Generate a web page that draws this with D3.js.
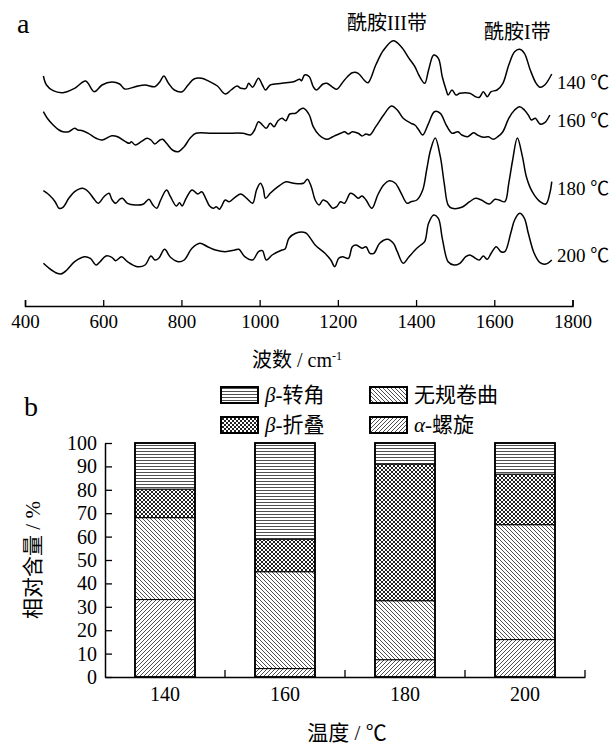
<!DOCTYPE html>
<html>
<head>
<meta charset="utf-8">
<script src="https://cdn.jsdelivr.net/npm/d3@7"></script>
<style>
  body { margin: 0; background: #fff; }
  svg { display: block; font-family: "Liberation Serif", "Times New Roman", "Noto Sans CJK SC", serif; }
</style>
</head>
<body>
<script>

// ================================ data
// (a) FTIR spectra, [wavenumber, intensity a.u. incl. stacking offset]
var spec140 = [[447,230],[455,221],[472,215.3],[497,213.3],[527,217.7],[555,225],[577,214.3],[597,221],[622,224],[642,222],[655,217],[682,219.3],[707,221],[732,219.3],[745,224.3],[755,230],[767,222.7],[782,216],[802,214.3],[817,221],[832,227],[852,227.7],[872,224.3],[892,220],[912,212],[927,216],[942,220],[952,217.7],[965,217.7],[972,222.7],[982,218.7],[997,227.7],[1007,221],[1015,216],[1027,221],[1057,222.7],[1087,224.3],[1102,226.7],[1107,225.3],[1115,231],[1127,229.3],[1137,219.3],[1145,216],[1162,222],[1172,222.7],[1187,218.7],[1197,216.7],[1217,226],[1237,233.3],[1252,232.7],[1267,226],[1277,223.3],[1297,241],[1317,256],[1342,265.3],[1362,259.3],[1382,247.7],[1397,239.3],[1407,231],[1422,222.7],[1432,236],[1445,251],[1457,247.7],[1467,229.3],[1477,216],[1482,211],[1492,216],[1502,211],[1512,212.7],[1537,212.7],[1552,209.3],[1562,208.7],[1572,214.3],[1582,209.3],[1592,214.3],[1607,216],[1622,222.7],[1637,241],[1652,254.3],[1665,256.7],[1677,252.7],[1692,236],[1707,222.7],[1717,218.7],[1729,221],[1747,232]];

var spec160 = [[447,194.3],[457,187.7],[472,181],[487,176],[497,174.3],[512,174.3],[527,177.7],[535,176],[547,175.3],[562,172.7],[582,167.7],[597,166],[622,170.3],[637,169.3],[657,164.3],[667,162.7],[672,164.3],[682,161],[697,164.3],[712,167.7],[722,166],[732,162],[745,166],[752,166.7],[762,162.7],[777,156],[792,154.3],[807,159.3],[822,167.7],[837,172.7],[877,172.7],[917,172.7],[957,172.7],[977,171],[987,176],[997,184.3],[1007,181],[1017,177.7],[1027,182.7],[1037,179.3],[1047,185.3],[1057,187.7],[1067,185.3],[1077,192],[1092,192.7],[1102,196],[1112,197.7],[1127,191],[1137,179.3],[1152,171],[1172,166.7],[1187,169.3],[1207,172.7],[1217,174.3],[1227,172],[1237,174.3],[1252,172.7],[1262,170],[1272,172],[1282,171],[1297,179.3],[1317,191],[1337,200],[1352,196],[1367,187.7],[1387,182.7],[1397,181],[1407,176],[1417,171],[1432,182.7],[1447,194.3],[1462,192.7],[1477,181],[1492,172.7],[1507,174.3],[1517,171],[1532,169.3],[1547,173.3],[1557,171],[1572,168.7],[1585,169.3],[1597,166.7],[1609,169.3],[1622,174.3],[1637,187.7],[1652,196],[1665,199.3],[1677,196],[1687,191],[1695,186],[1705,187.7],[1717,182],[1729,183.3],[1742,191]];

var spec180 = [[447,115.3],[462,111],[477,104.3],[487,97.7],[497,98.7],[512,107.7],[527,114.3],[547,117.7],[562,114.3],[577,106.7],[587,102.7],[602,109.3],[615,112.7],[622,106.7],[632,102.7],[642,106.7],[649,107.7],[662,102.7],[682,101],[702,101.7],[717,106.7],[727,101],[737,97.7],[747,106],[762,116],[772,109.3],[787,100],[795,103.3],[802,100],[812,107.7],[827,116],[842,112],[852,114.3],[862,107.7],[872,100],[882,97.7],[889,99.3],[897,96.7],[902,99.3],[912,106],[922,104.3],[937,108.7],[952,112],[967,107.7],[982,102.7],[992,116],[1002,122.7],[1009,117.7],[1015,107.7],[1027,112.7],[1047,119.3],[1067,124.3],[1087,122.7],[1112,122.7],[1122,126.7],[1132,119.3],[1142,106],[1152,101],[1162,106],[1172,104.3],[1187,97.7],[1197,99.3],[1207,104.3],[1217,102.7],[1232,112.7],[1242,111],[1252,107.7],[1262,110],[1272,106],[1287,97.7],[1302,111],[1317,121],[1332,125.3],[1347,122.7],[1362,112.7],[1377,102.7],[1387,104.3],[1402,106],[1417,116],[1427,136],[1437,156],[1449,168],[1462,149.3],[1472,122.7],[1482,101],[1492,97.7],[1517,98.7],[1537,104.3],[1552,107.7],[1567,106],[1587,102],[1602,106.7],[1612,106],[1627,104.3],[1637,122.7],[1647,146],[1659,168],[1672,149.3],[1682,129.3],[1697,114.3],[1717,104.3],[1732,102],[1742,112.7],[1747,124.3]];

var spec200 = [[447,42.7],[462,37.7],[482,32.7],[492,32],[507,36],[527,44.3],[552,49.3],[567,47.7],[582,41],[592,44.3],[607,50],[622,48.7],[632,45.3],[647,49.3],[662,44.3],[687,39.3],[707,41],[722,50],[732,46],[742,47.7],[757,56.7],[772,48.7],[792,44.3],[807,46],[827,57.7],[847,62.7],[867,59.3],[887,56],[912,54.3],[937,56],[947,56.7],[962,49.3],[982,46],[997,54.3],[1007,55.3],[1017,46],[1032,51],[1057,56],[1065,57],[1075,67.7],[1092,72.7],[1117,73.3],[1127,69.3],[1142,61],[1167,52.7],[1182,46],[1192,39.3],[1202,47.7],[1212,49.3],[1227,47.7],[1237,59.3],[1247,61],[1262,57.7],[1272,59.3],[1282,52.7],[1292,52.7],[1307,62.7],[1327,66.7],[1342,62.7],[1352,54.3],[1367,42.7],[1382,49.3],[1402,57.7],[1412,61],[1422,64.3],[1432,82.7],[1445,91],[1457,87.7],[1467,67.7],[1482,44.3],[1497,41],[1512,42.7],[1527,49.3],[1537,51],[1552,47.7],[1562,46],[1572,50],[1582,46.7],[1592,52.7],[1605,59.3],[1617,54.3],[1627,54.3],[1642,72.7],[1652,86],[1665,92.7],[1677,87.7],[1687,72.7],[1702,52.7],[1717,43.3],[1732,42],[1747,46]];

var specTicks = [400, 600, 800, 1000, 1200, 1400, 1600, 1800];
var specLabels = ["140 ℃", "160 ℃", "180 ℃", "200 ℃"];

// (b) secondary structure content, %
var temps = ["140", "160", "180", "200"];
var alphaHelix = [33.1, 3.6, 7.4, 16.0];
var randomCoil = [35.0, 41.4, 25.2, 49.1];
var betaSheet  = [12.2, 13.9, 58.4, 21.6];
var betaTurn   = [19.7, 41.1, 9.0, 13.3];
var barTicks = [0, 10, 20, 30, 40, 50, 60, 70, 80, 90, 100];

// ================================ svg
var svgWidth = 612;
var svgHeight = 744;

var svg = d3.select("body")
  .append("svg")
  .attr("width", svgWidth)
  .attr("height", svgHeight);

svg.append("rect").attr("width", svgWidth).attr("height", svgHeight).attr("fill", "#fff");

// ================================ patterns
var defs = svg.append("defs");

function addPattern(id, w, h, d, sw) {
  var p = defs.append("pattern")
    .attr("id", id)
    .attr("patternUnits", "userSpaceOnUse")
    .attr("width", w)
    .attr("height", h);
  p.append("rect").attr("width", w).attr("height", h).attr("fill", "#fff");
  p.append("path").attr("d", d).attr("stroke", "#222").attr("stroke-width", sw).attr("fill", "none");
}

addPattern("pat-turn", 4, 3, "M0,1.5H4", 0.8);
addPattern("pat-coil", 4, 4, "M0,0L4,4M-1,3L1,5M3,-1L5,1", 0.8);
addPattern("pat-sheet", 4, 4, "M0,0L4,4M-1,3L1,5M3,-1L5,1M0,4L4,0M-1,1L1,-1M3,5L5,3", 1);
addPattern("pat-alpha", 4, 4, "M0,4L4,0M-1,1L1,-1M3,5L5,3", 0.8);

// ================================ (a) spectra
var xSpec = d3.scaleLinear().domain([400, 1800]).range([25, 572.5]);
var ySpec = d3.scaleLinear().domain([0, 300]).range([306, 6]);

var specLine = d3.line()
  .x(d => xSpec(d[0]))
  .y(d => ySpec(d[1]))
  .curve(d3.curveCatmullRom.alpha(0.5));

var allSpec = [spec140, spec160, spec180, spec200];
var labelY = [82, 120, 188, 255];

svg.selectAll(".spec")
  .data(allSpec)
  .enter()
  .append("path")
  .attr("class", "spec")
  .attr("d", specLine)
  .attr("fill", "none")
  .attr("stroke", "#000")
  .attr("stroke-width", 1.5)
  .attr("stroke-linejoin", "round");

svg.selectAll(".speclabel")
  .data(specLabels)
  .enter()
  .append("text")
  .attr("class", "speclabel")
  .attr("x", 557)
  .attr("y", (d, i) => labelY[i])
  .attr("dy", "0.35em")
  .style("font-size", "19px")
  .text(d => d);

var specAxis = svg.append("g")
  .attr("transform", "translate(0,306)")
  .call(d3.axisBottom(xSpec)
    .tickValues(specTicks)
    .tickSizeInner(-6)
    .tickSizeOuter(-6)
    .tickPadding(9)
    .tickFormat(d3.format("d")));
specAxis.attr("font-family", null).attr("font-size", null);
specAxis.selectAll("text").style("font-size", "19px").attr("fill", "#000");
specAxis.select(".domain").attr("stroke-width", 1.5);
specAxis.selectAll(".tick line").attr("stroke-width", 1.3);

svg.append("text")
  .attr("x", 297).attr("y", 360).attr("dy", "0.35em")
  .attr("text-anchor", "middle")
  .style("font-size", "20px")
  .html('波数 / cm<tspan dy="-7" style="font-size:12px">-1</tspan>');

svg.append("text").attr("x", 347).attr("y", 23).attr("dy", "0.35em")
  .style("font-size", "20px").text("酰胺III带");
svg.append("text").attr("x", 484).attr("y", 32).attr("dy", "0.35em")
  .style("font-size", "20px").text("酰胺I带");

svg.append("text").attr("x", 17).attr("y", 33).style("font-size", "28px").text("a");
svg.append("text").attr("x", 24).attr("y", 416).style("font-size", "28px").text("b");

// ================================ (b) stacked bars
var rows = temps.map(function (t, i) {
  return { temp: t, alpha: alphaHelix[i], coil: randomCoil[i], sheet: betaSheet[i], turn: betaTurn[i] };
});
var keys = ["alpha", "coil", "sheet", "turn"];
var stacked = d3.stack().keys(keys)(rows);

var xBar = d3.scaleBand()
  .domain(temps)
  .range([105, 585])
  .paddingInner(0.5)
  .paddingOuter(0.25);
var yBar = d3.scaleLinear().domain([0, 100]).range([677, 443]);

var layers = svg.selectAll(".layer")
  .data(stacked)
  .enter()
  .append("g")
  .attr("class", "layer")
  .attr("fill", d => "url(#pat-" + d.key + ")");

layers.selectAll("rect")
  .data(d => d)
  .enter()
  .append("rect")
  .attr("x", d => xBar(d.data.temp))
  .attr("y", d => yBar(d[1]))
  .attr("width", xBar.bandwidth())
  .attr("height", d => yBar(d[0]) - yBar(d[1]))
  .attr("stroke", "#000")
  .attr("stroke-width", 1);

svg.selectAll(".barframe")
  .data(rows)
  .enter()
  .append("rect")
  .attr("class", "barframe")
  .attr("x", d => xBar(d.temp))
  .attr("y", yBar(100))
  .attr("width", xBar.bandwidth())
  .attr("height", yBar(0) - yBar(100))
  .attr("fill", "none")
  .attr("stroke", "#000")
  .attr("stroke-width", 1.8);

// axes
var yAxisG = svg.append("g")
  .attr("transform", "translate(105,0)")
  .call(d3.axisLeft(yBar).tickValues(barTicks).tickSizeInner(-7).tickSizeOuter(0).tickPadding(8));
yAxisG.attr("font-family", null).attr("font-size", null);
yAxisG.selectAll("text").style("font-size", "20px").attr("fill", "#000");
yAxisG.select(".domain").attr("stroke-width", 1.5);
yAxisG.selectAll(".tick line").attr("stroke-width", 1.3);

var xAxisG = svg.append("g")
  .attr("transform", "translate(0,677)")
  .call(d3.axisBottom(xBar).tickSize(0).tickPadding(10));
xAxisG.attr("font-family", null).attr("font-size", null);
xAxisG.selectAll("text").style("font-size", "20px").attr("fill", "#000");
xAxisG.select(".domain").attr("stroke-width", 1.5);

var step = xBar.step();
xAxisG.selectAll(".sep")
  .data(temps)
  .enter()
  .append("line")
  .attr("class", "sep")
  .attr("x1", d => xBar(d) + xBar.bandwidth() + step * 0.25)
  .attr("x2", d => xBar(d) + xBar.bandwidth() + step * 0.25)
  .attr("y1", 0)
  .attr("y2", -7)
  .attr("stroke", "#000")
  .attr("stroke-width", 1.3);

svg.append("text")
  .attr("x", 347).attr("y", 733).attr("dy", "0.35em")
  .attr("text-anchor", "middle")
  .style("font-size", "21px")
  .text("温度 / ℃");

svg.append("text")
  .attr("transform", "translate(33,560) rotate(-90)")
  .attr("dy", "0.35em")
  .attr("text-anchor", "middle")
  .style("font-size", "21px")
  .text("相对含量 / %");

// legend
var legendItems = [
  { key: "turn", greek: "β", label: "-转角", col: 0, row: 0 },
  { key: "coil", greek: "", label: "无规卷曲", col: 1, row: 0 },
  { key: "sheet", greek: "β", label: "-折叠", col: 0, row: 1 },
  { key: "alpha", greek: "α", label: "-螺旋", col: 1, row: 1 }
];

var legend = svg.selectAll(".legend")
  .data(legendItems)
  .enter()
  .append("g")
  .attr("class", "legend")
  .attr("transform", d => `translate(${221 + d.col * 149}, ${387 + d.row * 30})`);

legend.append("rect")
  .attr("width", 37)
  .attr("height", 16)
  .attr("fill", d => "url(#pat-" + d.key + ")")
  .attr("stroke", "#000")
  .attr("stroke-width", 2);

var lt = legend.append("text")
  .attr("x", 44)
  .attr("y", 8)
  .attr("dy", "0.35em")
  .style("font-size", "21px");
lt.append("tspan").style("font-style", "italic").text(d => d.greek);
lt.append("tspan").text(d => d.label);

</script>
</body>
</html>
